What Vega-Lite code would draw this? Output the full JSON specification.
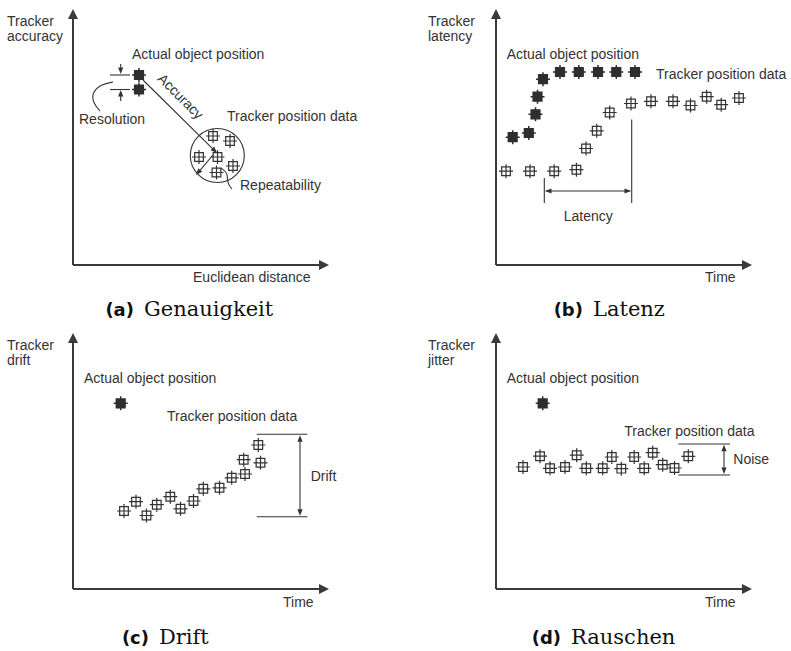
{
  "$schema": "https://vega.github.io/schema/vega-lite/v6.json",
  "padding": 0,
  "background": "white",
  "config": {"view": {"stroke": null}},
  "data": {"values": [
    {"p":"a","k":"axis","x":0,"y":0,"x2":0,"y2":97},
    {"p":"a","k":"axis","x":0,"y":0,"x2":97,"y2":0},
    {"p":"a","k":"head","x":0,"y":100,"a":-90},
    {"p":"a","k":"head","x":100,"y":0,"a":0},
    {"p":"a","k":"actual","x":25.78,"y":74.22},
    {"p":"a","k":"actual","x":25.78,"y":68.55},
    {"p":"a","k":"tracker","x":54.69,"y":50.39},
    {"p":"a","k":"tracker","x":61.33,"y":48.44},
    {"p":"a","k":"tracker","x":49.22,"y":42.19},
    {"p":"a","k":"tracker","x":56.45,"y":42.19},
    {"p":"a","k":"tracker","x":62.5,"y":38.67},
    {"p":"a","k":"tracker","x":56.05,"y":36.13},
    {"p":"a","k":"ring","x":56.37,"y":42.77},
    {"p":"a","k":"line","x":14.45,"y":74.22,"x2":22.27,"y2":74.22},
    {"p":"a","k":"line","x":14.45,"y":68.55,"x2":22.27,"y2":68.55},
    {"p":"a","k":"line","x":18.63,"y":78.52,"x2":18.63,"y2":75.5},
    {"p":"a","k":"line","x":18.63,"y":64.06,"x2":18.63,"y2":67.5},
    {"p":"a","k":"line","x":27.34,"y":72.27,"x2":55.5,"y2":44.5},
    {"p":"a","k":"line","x":54.69,"y":42.97,"x2":48.7,"y2":35.9},
    {"p":"a","k":"tip","x":18.63,"y":74.61,"a":90},
    {"p":"a","k":"tip","x":18.63,"y":68.36,"a":-90},
    {"p":"a","k":"tip","x":56.25,"y":43.75,"a":44.6},
    {"p":"a","k":"tip","x":48.05,"y":35.16,"a":130.4},
    {"p":"a","k":"curve","g":"res","o":1,"x":15.63,"y":71.48},
    {"p":"a","k":"curve","g":"res","o":2,"x":11.33,"y":70.7},
    {"p":"a","k":"curve","g":"res","o":3,"x":7.42,"y":67.58},
    {"p":"a","k":"curve","g":"res","o":4,"x":7.81,"y":63.28},
    {"p":"a","k":"curve","g":"res","o":5,"x":10.55,"y":60.16},
    {"p":"a","k":"curve","g":"rep","o":1,"x":57.81,"y":37.89},
    {"p":"a","k":"curve","g":"rep","o":2,"x":60.55,"y":35.94},
    {"p":"a","k":"curve","g":"rep","o":3,"x":60.16,"y":32.03},
    {"p":"a","k":"curve","g":"rep","o":4,"x":62.11,"y":29.69},
    {"p":"a","k":"multi","x":-25.78,"y":97.66,"t":"Tracker\naccuracy"},
    {"p":"a","k":"label","x":23.05,"y":82.03,"t":"Actual object position"},
    {"p":"a","k":"label","x":2.34,"y":56.64,"t":"Resolution"},
    {"p":"a","k":"label","x":60.16,"y":57.81,"t":"Tracker position data"},
    {"p":"a","k":"label","x":65.23,"y":30.86,"t":"Repeatability"},
    {"p":"a","k":"label","x":46.88,"y":-5.08,"t":"Euclidean distance"},
    {"p":"a","k":"rot","x":41.8,"y":65.63,"t":"Accuracy"},
    {"p":"a","k":"tag","x":23.83,"y":-19.92,"t":"(a)"},
    {"p":"a","k":"cap","x":27.73,"y":-19.92,"t":"Genauigkeit"},

    {"p":"b","k":"axis","x":0,"y":0,"x2":0,"y2":97},
    {"p":"b","k":"axis","x":0,"y":0,"x2":97,"y2":0},
    {"p":"b","k":"head","x":0,"y":100,"a":-90},
    {"p":"b","k":"head","x":100,"y":0,"a":0},
    {"p":"b","k":"actual","x":6.52,"y":49.92},
    {"p":"b","k":"actual","x":12.81,"y":51.56},
    {"p":"b","k":"actual","x":15.43,"y":58.87},
    {"p":"b","k":"actual","x":16.21,"y":65.74},
    {"p":"b","k":"actual","x":18.36,"y":72.58},
    {"p":"b","k":"actual","x":25.0,"y":75.39},
    {"p":"b","k":"actual","x":32.34,"y":75.39},
    {"p":"b","k":"actual","x":39.84,"y":75.39},
    {"p":"b","k":"actual","x":46.99,"y":75.39},
    {"p":"b","k":"actual","x":54.3,"y":75.39},
    {"p":"b","k":"tracker","x":3.91,"y":36.64},
    {"p":"b","k":"tracker","x":13.28,"y":36.64},
    {"p":"b","k":"tracker","x":22.73,"y":36.64},
    {"p":"b","k":"tracker","x":31.41,"y":37.23},
    {"p":"b","k":"tracker","x":35.16,"y":45.51},
    {"p":"b","k":"tracker","x":39.34,"y":52.42},
    {"p":"b","k":"tracker","x":44.41,"y":59.57},
    {"p":"b","k":"tracker","x":52.73,"y":63.09},
    {"p":"b","k":"tracker","x":60.55,"y":63.95},
    {"p":"b","k":"tracker","x":69.14,"y":63.95},
    {"p":"b","k":"tracker","x":75.98,"y":62.3},
    {"p":"b","k":"tracker","x":82.3,"y":65.74},
    {"p":"b","k":"tracker","x":87.97,"y":62.62},
    {"p":"b","k":"tracker","x":94.92,"y":65.23},
    {"p":"b","k":"line","x":18.87,"y":33.98,"x2":18.87,"y2":24.22},
    {"p":"b","k":"line","x":53.01,"y":56.84,"x2":53.01,"y2":24.22},
    {"p":"b","k":"line","x":19.5,"y":28.91,"x2":52.4,"y2":28.91},
    {"p":"b","k":"tip","x":19.14,"y":28.91,"a":180},
    {"p":"b","k":"tip","x":52.73,"y":28.91,"a":0},
    {"p":"b","k":"mid","x":36.05,"y":18.75,"t":"Latency"},
    {"p":"b","k":"label","x":4.18,"y":82.03,"t":"Actual object position"},
    {"p":"b","k":"label","x":62.5,"y":74.22,"t":"Tracker position data"},
    {"p":"b","k":"multi","x":-26.56,"y":97.66,"t":"Tracker\nlatency"},
    {"p":"b","k":"label","x":81.64,"y":-5.08,"t":"Time"},
    {"p":"b","k":"tag","x":33.98,"y":-19.92,"t":"(b)"},
    {"p":"b","k":"cap","x":37.89,"y":-19.92,"t":"Latenz"},

    {"p":"c","k":"axis","x":0,"y":0,"x2":0,"y2":97},
    {"p":"c","k":"axis","x":0,"y":0,"x2":97,"y2":0},
    {"p":"c","k":"head","x":0,"y":100,"a":-90},
    {"p":"c","k":"head","x":100,"y":0,"a":0},
    {"p":"c","k":"actual","x":18.63,"y":72.54},
    {"p":"c","k":"tracker","x":19.92,"y":30.47},
    {"p":"c","k":"tracker","x":24.61,"y":34.1},
    {"p":"c","k":"tracker","x":28.71,"y":28.71},
    {"p":"c","k":"tracker","x":32.73,"y":32.93},
    {"p":"c","k":"tracker","x":38.01,"y":36.05},
    {"p":"c","k":"tracker","x":41.99,"y":31.33},
    {"p":"c","k":"tracker","x":47.07,"y":34.38},
    {"p":"c","k":"tracker","x":50.9,"y":39.14},
    {"p":"c","k":"tracker","x":57.23,"y":39.53},
    {"p":"c","k":"tracker","x":61.99,"y":43.44},
    {"p":"c","k":"tracker","x":67.19,"y":44.92},
    {"p":"c","k":"tracker","x":66.68,"y":50.51},
    {"p":"c","k":"tracker","x":72.38,"y":56.25},
    {"p":"c","k":"tracker","x":73.24,"y":49.3},
    {"p":"c","k":"line","x":71.76,"y":60.43,"x2":91.52,"y2":60.43},
    {"p":"c","k":"line","x":71.76,"y":28.24,"x2":91.52,"y2":28.24},
    {"p":"c","k":"line","x":88.67,"y":30.5,"x2":88.67,"y2":58.2},
    {"p":"c","k":"tip","x":88.67,"y":60.1,"a":-90},
    {"p":"c","k":"tip","x":88.67,"y":28.6,"a":90},
    {"p":"c","k":"label","x":92.85,"y":43.87,"t":"Drift"},
    {"p":"c","k":"label","x":4.3,"y":82.03,"t":"Actual object position"},
    {"p":"c","k":"label","x":36.72,"y":67.3,"t":"Tracker position data"},
    {"p":"c","k":"multi","x":-25.78,"y":97.77,"t":"Tracker\ndrift"},
    {"p":"c","k":"label","x":82.03,"y":-5.35,"t":"Time"},
    {"p":"c","k":"tag","x":29.69,"y":-21.48,"t":"(c)"},
    {"p":"c","k":"cap","x":33.59,"y":-21.48,"t":"Drift"},

    {"p":"d","k":"axis","x":0,"y":0,"x2":0,"y2":97},
    {"p":"d","k":"axis","x":0,"y":0,"x2":97,"y2":0},
    {"p":"d","k":"head","x":0,"y":100,"a":-90},
    {"p":"d","k":"head","x":100,"y":0,"a":0},
    {"p":"d","k":"actual","x":18.24,"y":72.54},
    {"p":"d","k":"tracker","x":10.55,"y":47.66},
    {"p":"d","k":"tracker","x":17.19,"y":51.88},
    {"p":"d","k":"tracker","x":21.09,"y":47.15},
    {"p":"d","k":"tracker","x":26.95,"y":47.66},
    {"p":"d","k":"tracker","x":31.52,"y":52.27},
    {"p":"d","k":"tracker","x":35.27,"y":47.15},
    {"p":"d","k":"tracker","x":41.68,"y":47.15},
    {"p":"d","k":"tracker","x":45.23,"y":51.56},
    {"p":"d","k":"tracker","x":48.95,"y":47.0},
    {"p":"d","k":"tracker","x":53.98,"y":51.56},
    {"p":"d","k":"tracker","x":57.89,"y":47.15},
    {"p":"d","k":"tracker","x":61.21,"y":53.24},
    {"p":"d","k":"tracker","x":65.12,"y":48.55},
    {"p":"d","k":"tracker","x":69.73,"y":47.27},
    {"p":"d","k":"tracker","x":75.12,"y":51.84},
    {"p":"d","k":"line","x":71.21,"y":56.64,"x2":91.41,"y2":56.64},
    {"p":"d","k":"line","x":71.21,"y":44.53,"x2":91.41,"y2":44.53},
    {"p":"d","k":"line","x":89.06,"y":46.5,"x2":89.06,"y2":54.7},
    {"p":"d","k":"tip","x":89.06,"y":56.3,"a":-90},
    {"p":"d","k":"tip","x":89.06,"y":44.9,"a":90},
    {"p":"d","k":"label","x":92.7,"y":50.39,"t":"Noise"},
    {"p":"d","k":"label","x":4.18,"y":81.91,"t":"Actual object position"},
    {"p":"d","k":"label","x":50.12,"y":61.45,"t":"Tracker position data"},
    {"p":"d","k":"multi","x":-26.56,"y":97.77,"t":"Tracker\njitter"},
    {"p":"d","k":"label","x":81.64,"y":-5.35,"t":"Time"},
    {"p":"d","k":"tag","x":25.39,"y":-21.48,"t":"(d)"},
    {"p":"d","k":"cap","x":29.3,"y":-21.48,"t":"Rauschen"}
  ]},
  "columns": 2,
  "spacing": {"row": 24, "column": 55},
  "bounds": "flush",
  "concat": [
    {"transform": [{"filter": "datum.p === 'a'"}],
     "width": 368, "height": 300,
     "encoding": {
       "x": {"field": "x", "type": "quantitative", "scale": {"domain": [-28.516, 115.234], "nice": false, "zero": false}, "axis": null},
       "y": {"field": "y", "type": "quantitative", "scale": {"domain": [-13.672, 103.516], "nice": false, "zero": false}, "axis": null}
     },
     "layer": [
      {"transform": [{"filter": "datum.k === 'axis'"}], "mark": {"type": "rule", "stroke": "#3a3a3a", "strokeWidth": 2}, "encoding": {"x2": {"field": "x2"}, "y2": {"field": "y2"}}},
      {"transform": [{"filter": "datum.k === 'line'"}], "mark": {"type": "rule", "stroke": "#333333", "strokeWidth": 1.1}, "encoding": {"x2": {"field": "x2"}, "y2": {"field": "y2"}}},
      {"transform": [{"filter": "datum.k === 'head'"}], "mark": {"type": "point", "shape": "M0,0L-1,-0.5L-1,0.5Z", "size": 400, "filled": true, "fill": "#3a3a3a", "strokeWidth": 0, "opacity": 1}, "encoding": {"angle": {"field": "a", "type": "quantitative", "scale": null}}},
      {"transform": [{"filter": "datum.k === 'tip'"}], "mark": {"type": "point", "shape": "M0,0L-1,-0.4L-1,0.4Z", "size": 169, "filled": true, "fill": "#333333", "strokeWidth": 0, "opacity": 1}, "encoding": {"angle": {"field": "a", "type": "quantitative", "scale": null}}},
      {"transform": [{"filter": "datum.k === 'curve'"}], "mark": {"type": "line", "interpolate": "basis", "stroke": "#333333", "strokeWidth": 1.1}, "encoding": {"detail": {"field": "g"}, "order": {"field": "o", "type": "quantitative"}}},
      {"transform": [{"filter": "datum.k === 'ring'"}], "mark": {"type": "point", "shape": "circle", "size": 2916, "filled": false, "stroke": "#333333", "strokeWidth": 1.1, "opacity": 1}},
      {"transform": [{"filter": "datum.k === 'tracker'"}], "mark": {"type": "point", "shape": "M-0.62,-0.62H0.62V0.62H-0.62Z M0,-1V1 M-1,0H1", "size": 196, "filled": false, "stroke": "#333333", "strokeWidth": 1.2, "opacity": 1}},
      {"transform": [{"filter": "datum.k === 'actual'"}], "mark": {"type": "point", "shape": "M-0.62,-0.62H0.62V0.62H-0.62Z M0,-1V1 M-1,0H1", "size": 196, "filled": true, "fill": "#2e2e2e", "stroke": "#2e2e2e", "strokeWidth": 1.5, "opacity": 1}},
      {"transform": [{"filter": "datum.k === 'label'"}], "mark": {"type": "text", "align": "left", "baseline": "middle", "font": "Liberation Sans", "fontSize": 14, "fill": "#333333"}, "encoding": {"text": {"field": "t"}}},
      {"transform": [{"filter": "datum.k === 'multi'"}], "mark": {"type": "text", "align": "left", "baseline": "top", "lineBreak": "\n", "lineHeight": 15, "font": "Liberation Sans", "fontSize": 14, "fill": "#333333"}, "encoding": {"text": {"field": "t"}}},
      {"transform": [{"filter": "datum.k === 'rot'"}], "mark": {"type": "text", "align": "center", "baseline": "middle", "angle": 45, "font": "Liberation Sans", "fontSize": 14, "fill": "#333333"}, "encoding": {"text": {"field": "t"}}},
      {"transform": [{"filter": "datum.k === 'tag'"}], "mark": {"type": "text", "align": "right", "baseline": "alphabetic", "font": "DejaVu Sans", "fontWeight": "bold", "fontSize": 18, "fill": "#111111"}, "encoding": {"text": {"field": "t"}}},
      {"transform": [{"filter": "datum.k === 'cap'"}], "mark": {"type": "text", "align": "left", "baseline": "alphabetic", "font": "DejaVu Serif", "fontSize": 21, "fill": "#111111"}, "encoding": {"text": {"field": "t"}}}
     ]},
    {"transform": [{"filter": "datum.p === 'b'"}],
     "width": 368, "height": 300,
     "encoding": {
       "x": {"field": "x", "type": "quantitative", "scale": {"domain": [-28.516, 115.234], "nice": false, "zero": false}, "axis": null},
       "y": {"field": "y", "type": "quantitative", "scale": {"domain": [-13.672, 103.516], "nice": false, "zero": false}, "axis": null}
     },
     "layer": [
      {"transform": [{"filter": "datum.k === 'axis'"}], "mark": {"type": "rule", "stroke": "#3a3a3a", "strokeWidth": 2}, "encoding": {"x2": {"field": "x2"}, "y2": {"field": "y2"}}},
      {"transform": [{"filter": "datum.k === 'line'"}], "mark": {"type": "rule", "stroke": "#333333", "strokeWidth": 1.1}, "encoding": {"x2": {"field": "x2"}, "y2": {"field": "y2"}}},
      {"transform": [{"filter": "datum.k === 'head'"}], "mark": {"type": "point", "shape": "M0,0L-1,-0.5L-1,0.5Z", "size": 400, "filled": true, "fill": "#3a3a3a", "strokeWidth": 0, "opacity": 1}, "encoding": {"angle": {"field": "a", "type": "quantitative", "scale": null}}},
      {"transform": [{"filter": "datum.k === 'tip'"}], "mark": {"type": "point", "shape": "M0,0L-1,-0.4L-1,0.4Z", "size": 169, "filled": true, "fill": "#333333", "strokeWidth": 0, "opacity": 1}, "encoding": {"angle": {"field": "a", "type": "quantitative", "scale": null}}},
      {"transform": [{"filter": "datum.k === 'tracker'"}], "mark": {"type": "point", "shape": "M-0.62,-0.62H0.62V0.62H-0.62Z M0,-1V1 M-1,0H1", "size": 196, "filled": false, "stroke": "#333333", "strokeWidth": 1.2, "opacity": 1}},
      {"transform": [{"filter": "datum.k === 'actual'"}], "mark": {"type": "point", "shape": "M-0.62,-0.62H0.62V0.62H-0.62Z M0,-1V1 M-1,0H1", "size": 196, "filled": true, "fill": "#2e2e2e", "stroke": "#2e2e2e", "strokeWidth": 1.5, "opacity": 1}},
      {"transform": [{"filter": "datum.k === 'label'"}], "mark": {"type": "text", "align": "left", "baseline": "middle", "font": "Liberation Sans", "fontSize": 14, "fill": "#333333"}, "encoding": {"text": {"field": "t"}}},
      {"transform": [{"filter": "datum.k === 'multi'"}], "mark": {"type": "text", "align": "left", "baseline": "top", "lineBreak": "\n", "lineHeight": 15, "font": "Liberation Sans", "fontSize": 14, "fill": "#333333"}, "encoding": {"text": {"field": "t"}}},
      {"transform": [{"filter": "datum.k === 'mid'"}], "mark": {"type": "text", "align": "center", "baseline": "middle", "font": "Liberation Sans", "fontSize": 14, "fill": "#333333"}, "encoding": {"text": {"field": "t"}}},
      {"transform": [{"filter": "datum.k === 'tag'"}], "mark": {"type": "text", "align": "right", "baseline": "alphabetic", "font": "DejaVu Sans", "fontWeight": "bold", "fontSize": 18, "fill": "#111111"}, "encoding": {"text": {"field": "t"}}},
      {"transform": [{"filter": "datum.k === 'cap'"}], "mark": {"type": "text", "align": "left", "baseline": "alphabetic", "font": "DejaVu Serif", "fontSize": 21, "fill": "#111111"}, "encoding": {"text": {"field": "t"}}}
     ]},
    {"transform": [{"filter": "datum.p === 'c'"}],
     "width": 368, "height": 300,
     "encoding": {
       "x": {"field": "x", "type": "quantitative", "scale": {"domain": [-28.516, 115.234], "nice": false, "zero": false}, "axis": null},
       "y": {"field": "y", "type": "quantitative", "scale": {"domain": [-13.672, 103.516], "nice": false, "zero": false}, "axis": null}
     },
     "layer": [
      {"transform": [{"filter": "datum.k === 'axis'"}], "mark": {"type": "rule", "stroke": "#3a3a3a", "strokeWidth": 2}, "encoding": {"x2": {"field": "x2"}, "y2": {"field": "y2"}}},
      {"transform": [{"filter": "datum.k === 'line'"}], "mark": {"type": "rule", "stroke": "#333333", "strokeWidth": 1.1}, "encoding": {"x2": {"field": "x2"}, "y2": {"field": "y2"}}},
      {"transform": [{"filter": "datum.k === 'head'"}], "mark": {"type": "point", "shape": "M0,0L-1,-0.5L-1,0.5Z", "size": 400, "filled": true, "fill": "#3a3a3a", "strokeWidth": 0, "opacity": 1}, "encoding": {"angle": {"field": "a", "type": "quantitative", "scale": null}}},
      {"transform": [{"filter": "datum.k === 'tip'"}], "mark": {"type": "point", "shape": "M0,0L-1,-0.4L-1,0.4Z", "size": 169, "filled": true, "fill": "#333333", "strokeWidth": 0, "opacity": 1}, "encoding": {"angle": {"field": "a", "type": "quantitative", "scale": null}}},
      {"transform": [{"filter": "datum.k === 'tracker'"}], "mark": {"type": "point", "shape": "M-0.62,-0.62H0.62V0.62H-0.62Z M0,-1V1 M-1,0H1", "size": 196, "filled": false, "stroke": "#333333", "strokeWidth": 1.2, "opacity": 1}},
      {"transform": [{"filter": "datum.k === 'actual'"}], "mark": {"type": "point", "shape": "M-0.62,-0.62H0.62V0.62H-0.62Z M0,-1V1 M-1,0H1", "size": 196, "filled": true, "fill": "#2e2e2e", "stroke": "#2e2e2e", "strokeWidth": 1.5, "opacity": 1}},
      {"transform": [{"filter": "datum.k === 'label'"}], "mark": {"type": "text", "align": "left", "baseline": "middle", "font": "Liberation Sans", "fontSize": 14, "fill": "#333333"}, "encoding": {"text": {"field": "t"}}},
      {"transform": [{"filter": "datum.k === 'multi'"}], "mark": {"type": "text", "align": "left", "baseline": "top", "lineBreak": "\n", "lineHeight": 15, "font": "Liberation Sans", "fontSize": 14, "fill": "#333333"}, "encoding": {"text": {"field": "t"}}},
      {"transform": [{"filter": "datum.k === 'tag'"}], "mark": {"type": "text", "align": "right", "baseline": "alphabetic", "font": "DejaVu Sans", "fontWeight": "bold", "fontSize": 18, "fill": "#111111"}, "encoding": {"text": {"field": "t"}}},
      {"transform": [{"filter": "datum.k === 'cap'"}], "mark": {"type": "text", "align": "left", "baseline": "alphabetic", "font": "DejaVu Serif", "fontSize": 21, "fill": "#111111"}, "encoding": {"text": {"field": "t"}}}
     ]},
    {"transform": [{"filter": "datum.p === 'd'"}],
     "width": 368, "height": 300,
     "encoding": {
       "x": {"field": "x", "type": "quantitative", "scale": {"domain": [-28.516, 115.234], "nice": false, "zero": false}, "axis": null},
       "y": {"field": "y", "type": "quantitative", "scale": {"domain": [-13.672, 103.516], "nice": false, "zero": false}, "axis": null}
     },
     "layer": [
      {"transform": [{"filter": "datum.k === 'axis'"}], "mark": {"type": "rule", "stroke": "#3a3a3a", "strokeWidth": 2}, "encoding": {"x2": {"field": "x2"}, "y2": {"field": "y2"}}},
      {"transform": [{"filter": "datum.k === 'line'"}], "mark": {"type": "rule", "stroke": "#333333", "strokeWidth": 1.1}, "encoding": {"x2": {"field": "x2"}, "y2": {"field": "y2"}}},
      {"transform": [{"filter": "datum.k === 'head'"}], "mark": {"type": "point", "shape": "M0,0L-1,-0.5L-1,0.5Z", "size": 400, "filled": true, "fill": "#3a3a3a", "strokeWidth": 0, "opacity": 1}, "encoding": {"angle": {"field": "a", "type": "quantitative", "scale": null}}},
      {"transform": [{"filter": "datum.k === 'tip'"}], "mark": {"type": "point", "shape": "M0,0L-1,-0.4L-1,0.4Z", "size": 169, "filled": true, "fill": "#333333", "strokeWidth": 0, "opacity": 1}, "encoding": {"angle": {"field": "a", "type": "quantitative", "scale": null}}},
      {"transform": [{"filter": "datum.k === 'tracker'"}], "mark": {"type": "point", "shape": "M-0.62,-0.62H0.62V0.62H-0.62Z M0,-1V1 M-1,0H1", "size": 196, "filled": false, "stroke": "#333333", "strokeWidth": 1.2, "opacity": 1}},
      {"transform": [{"filter": "datum.k === 'actual'"}], "mark": {"type": "point", "shape": "M-0.62,-0.62H0.62V0.62H-0.62Z M0,-1V1 M-1,0H1", "size": 196, "filled": true, "fill": "#2e2e2e", "stroke": "#2e2e2e", "strokeWidth": 1.5, "opacity": 1}},
      {"transform": [{"filter": "datum.k === 'label'"}], "mark": {"type": "text", "align": "left", "baseline": "middle", "font": "Liberation Sans", "fontSize": 14, "fill": "#333333"}, "encoding": {"text": {"field": "t"}}},
      {"transform": [{"filter": "datum.k === 'multi'"}], "mark": {"type": "text", "align": "left", "baseline": "top", "lineBreak": "\n", "lineHeight": 15, "font": "Liberation Sans", "fontSize": 14, "fill": "#333333"}, "encoding": {"text": {"field": "t"}}},
      {"transform": [{"filter": "datum.k === 'tag'"}], "mark": {"type": "text", "align": "right", "baseline": "alphabetic", "font": "DejaVu Sans", "fontWeight": "bold", "fontSize": 18, "fill": "#111111"}, "encoding": {"text": {"field": "t"}}},
      {"transform": [{"filter": "datum.k === 'cap'"}], "mark": {"type": "text", "align": "left", "baseline": "alphabetic", "font": "DejaVu Serif", "fontSize": 21, "fill": "#111111"}, "encoding": {"text": {"field": "t"}}}
     ]}
  ]
}
